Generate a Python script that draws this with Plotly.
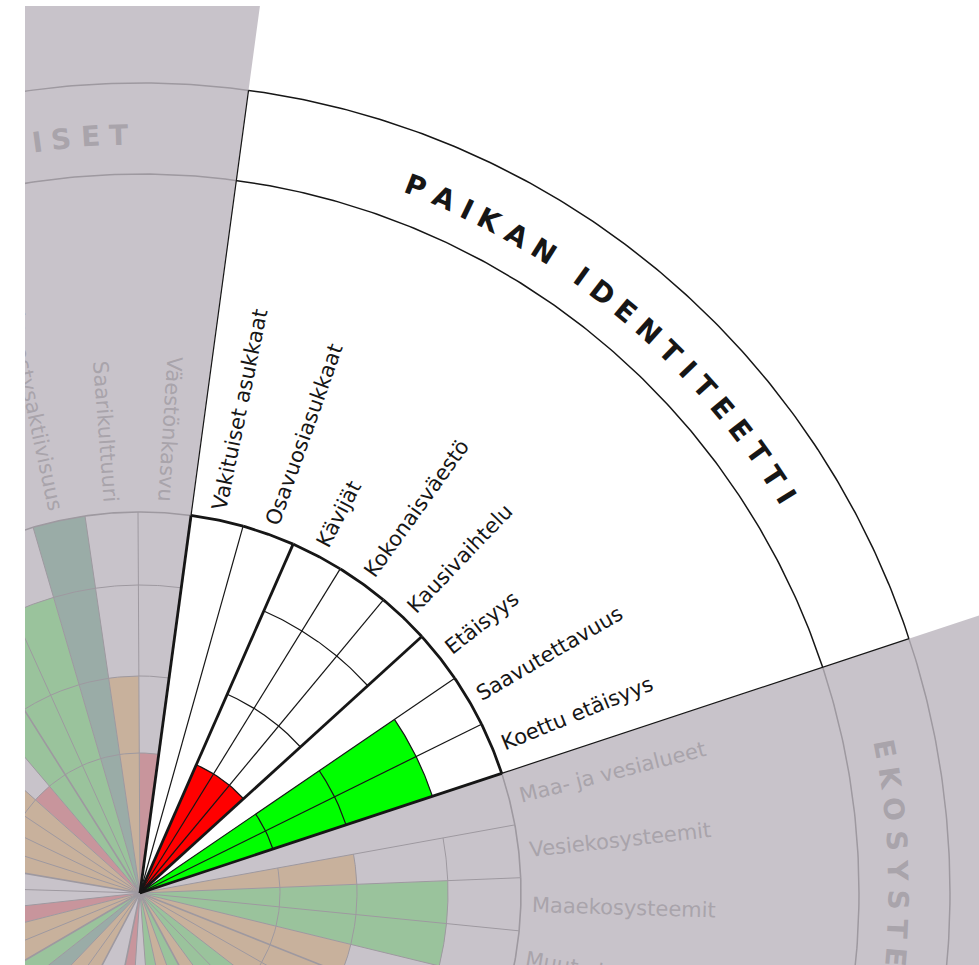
import numpy as np
import plotly.graph_objects as go

# ---------------- data ----------------
# wedges counted counter-clockwise, starting at the lower edge of the highlighted sector
WEDGE_LABELS = (
    ["Koettu etäisyys", "Saavutettavuus", "Etäisyys", "Kausivaihtelu",
     "Kokonaisväestö", "Kävijät", "Osavuosiasukkaat", "Vakituiset asukkaat",
     "Väestönkasvu", "Saarikulttuuri", "Äänestysaktiivisuus", "", ""]
    + [""] * 28
    + ["Muut ekosysteemit", "Maaekosysteemit", "Vesiekosysteemit", "Maa- ja vesialueet"]
)
# level 0 = not assessed, -1 = no wedge (gap), 1..4 = score
WEDGE_LEVELS = [3, 3, 0, 1, 1, 1, 0, 0,
                1, 2, 4, 3, 3,
                3, 1, 2, 2, 2, 2, 0, 0, 1, 2, 2, 3, 4, 2, 2,
                -1, -1,
                1, 0, 3, 2, 3, 2, 3, 3, 2, 2,
                2, 3, 3, 2, 0]
SUBGROUP_START = [0, 3, 6, 8, 13, 19, 24, 28, 30, 35, 40]
GROUP_TITLES = ["PAIKAN IDENTITEETTI", "SOSIAALISET", "", "", "", "", "EKOSYSTEEMIT"]
GROUP_FIRST = [0, 8, 13, 19, 24, 30, 40]
GROUP_LAST = [7, 12, 18, 23, 27, 39, 44]
GROUP_TITLE_SHIFT = [-0.2, -0.2, 0, 0, 0, 0, 0.5]   # degrees
HIGHLIGHT_GROUP = 0
LEVEL_COLORS = ["#ff0000", "#ff9900", "#00ff00", "#00803f"]

# ---------------- layout constants ----------------
N = len(WEDGE_LEVELS)
START_ANGLE = 18.3
WEDGE_DEG = 360 / N
LEVEL_RADII = [0, 140, 217, 308, 381]
R_GRID = 381
R_LABEL = 392
R_TITLE_IN, R_TITLE_OUT, R_TITLE_TEXT = 719, 810, 758
R_OVERLAY = 1600
X_RANGE = [-115, 839]
Y_RANGE = [-72, 887]
WIDTHS = {"top": (1.2, 2.8, 1.5), "base": (1.0, 1.6, 1.5)}
DARK = "#161616"
GREY_TEXT = "#a9a4ab"
OVERLAY = "rgba(188,182,190,0.82)"
LABEL_FONT = dict(family="DejaVu Sans", size=21)
TITLE_FS = 28
TITLE_TRACK = 9.2
BOLD_W = {"A": .774, "B": .762, "C": .734, "D": .830, "E": .683, "F": .683, "G": .821,
          "H": .837, "I": .372, "J": .372, "K": .775, "L": .637, "M": .995, "N": .837,
          "O": .850, "P": .733, "R": .770, "S": .720, "T": .682, "U": .812, "V": .774,
          "Y": .724, "Ö": .850, "Ä": .774, " ": .348}


def arc_pts(r, a0, a1):
    n = max(2, int(abs(a1 - a0) / 0.4) + 1)
    t = np.radians(np.linspace(a0, a1, n))
    return (r * np.cos(t)).tolist(), (r * np.sin(t)).tolist()


def polar(r, a):
    t = np.radians(a)
    return float(r * np.cos(t)), float(r * np.sin(t))


def wedge_span(k):
    a0 = START_ANGLE + k * WEDGE_DEG
    return a0, a0 + WEDGE_DEG


def norm(a):
    return (a + 180) % 360 - 180


hl_first, hl_last = GROUP_FIRST[HIGHLIGHT_GROUP], GROUP_LAST[HIGHLIGHT_GROUP]


def in_hl(k):
    return hl_first <= k <= hl_last


def subgroup(k):
    return max(i for i, s in enumerate(SUBGROUP_START) if s <= k)


def group_of(k):
    for g in range(len(GROUP_FIRST)):
        if GROUP_FIRST[g] <= k <= GROUP_LAST[g]:
            return g
    return None


fig = go.Figure()

# ---- coloured cells ----
for lvl in range(1, 5):
    xs, ys = [], []
    for k, v in enumerate(WEDGE_LEVELS):
        if v != lvl:
            continue
        a0, a1 = wedge_span(k)
        ax, ay = arc_pts(LEVEL_RADII[lvl], a0, a1)
        xs += [0] + ax + [0, None]
        ys += [0] + ay + [0, None]
    if xs:
        fig.add_trace(go.Scatter(x=xs, y=ys, fill="toself", fillcolor=LEVEL_COLORS[lvl - 1],
                                 mode="none", hoverinfo="skip", showlegend=False))

# ---- grid lines ----
segs = {}


def add_seg(layer, kind, xs, ys):
    d = segs.setdefault((layer, kind), ([], []))
    d[0].extend(list(xs) + [None])
    d[1].extend(list(ys) + [None])


for b in range(N):
    left, right = (b - 1) % N, b
    if WEDGE_LEVELS[left] < 0 and WEDGE_LEVELS[right] < 0:
        continue
    ang = START_ANGLE + b * WEDGE_DEG
    thick = subgroup(left) != subgroup(right)
    layer = "top" if (in_hl(left) or in_hl(right)) else "base"
    x1, y1 = polar(R_GRID, ang)
    add_seg(layer, 1 if thick else 0, [0, x1], [0, y1])
    if group_of(left) != group_of(right):
        x2, y2 = polar(R_TITLE_OUT, ang)
        add_seg(layer, 0, [x1, x2], [y1, y2])

for k, v in enumerate(WEDGE_LEVELS):
    if v < 0:
        continue
    a0, a1 = wedge_span(k)
    layer = "top" if in_hl(k) else "base"
    if v >= 1:
        for r in LEVEL_RADII[1:-1]:
            ax, ay = arc_pts(r, a0, a1)
            add_seg(layer, 0, ax, ay)
    ax, ay = arc_pts(R_GRID, a0, a1)
    add_seg(layer, 1, ax, ay)

for r in (R_TITLE_IN, R_TITLE_OUT):
    ax, ay = arc_pts(r, 0, 360)
    add_seg("base", 2, ax, ay)


def draw_layer(layer):
    for (lay, kind), (xs, ys) in segs.items():
        if lay != layer:
            continue
        fig.add_trace(go.Scatter(x=xs, y=ys, mode="lines",
                                 line=dict(color=DARK, width=WIDTHS[lay][kind]),
                                 hoverinfo="skip", showlegend=False))


draw_layer("base")

# ---- grey veil over all but the highlighted group ----
ov_a0 = START_ANGLE + (hl_last + 1) * WEDGE_DEG
ov_a1 = START_ANGLE + hl_first * WEDGE_DEG + 360
ax, ay = arc_pts(R_OVERLAY, ov_a0, ov_a1)
fig.add_trace(go.Scatter(x=[0] + ax + [0], y=[0] + ay + [0], fill="toself", fillcolor=OVERLAY,
                         mode="none", hoverinfo="skip", showlegend=False))

draw_layer("top")


# ---- category labels ----
def hidden(s):
    return "<span style='color:rgba(0,0,0,0)'>" + s + "</span>"


for k, lab in enumerate(WEDGE_LABELS):
    if not lab or WEDGE_LEVELS[k] < 0:
        continue
    a0, a1 = wedge_span(k)
    mid = (a0 + a1) / 2
    g = group_of(k)
    gm = START_ANGLE + (GROUP_FIRST[g] + GROUP_LAST[g] + 1) / 2 * WEDGE_DEG
    flip = np.cos(np.radians(gm)) < 0
    x, y = polar(R_LABEL, mid)
    if not (X_RANGE[0] <= x <= X_RANGE[1] and Y_RANGE[0] <= y <= Y_RANGE[1]):
        continue
    if flip:
        text, ta = lab + hidden(lab), norm(180 - mid)
    else:
        text, ta = hidden(lab) + lab, norm(-mid)
    fig.add_annotation(x=x, y=y, text=text, textangle=ta, showarrow=False,
                       xanchor="center", yanchor="middle",
                       font=dict(LABEL_FONT, color=DARK if in_hl(k) else GREY_TEXT))

# ---- curved group titles ----
for g, title in enumerate(GROUP_TITLES):
    if not title:
        continue
    gm = START_ANGLE + (GROUP_FIRST[g] + GROUP_LAST[g] + 1) / 2 * WEDGE_DEG + GROUP_TITLE_SHIFT[g]
    widths = [BOLD_W.get(c, 0.72) * TITLE_FS for c in title]
    pos = [0.0]
    for i in range(1, len(title)):
        pos.append(pos[-1] + (widths[i - 1] + widths[i]) / 2 + TITLE_TRACK)
    total = pos[-1]
    col = DARK if g == HIGHLIGHT_GROUP else GREY_TEXT
    for c, s in zip(title, pos):
        if c == " ":
            continue
        th = gm + np.degrees((total / 2 - s) / R_TITLE_TEXT)
        x, y = polar(R_TITLE_TEXT, th)
        if not (X_RANGE[0] <= x <= X_RANGE[1] and Y_RANGE[0] <= y <= Y_RANGE[1]):
            continue
        fig.add_annotation(x=x, y=y, text="<b>" + c + "</b>", textangle=norm(90 - th),
                           showarrow=False, xanchor="center", yanchor="middle",
                           font=dict(family="DejaVu Sans", size=TITLE_FS, color=col))

# white strip on the left edge
fig.add_annotation(xref="paper", yref="paper", x=0, y=0.5, xanchor="right", yanchor="middle",
                   text=" ", showarrow=False, bgcolor="white", width=40, height=1000,
                   borderpad=0, borderwidth=0)

fig.update_layout(
    width=979, height=965,
    margin=dict(l=25, r=0, t=6, b=0),
    paper_bgcolor="white", plot_bgcolor="white",
    xaxis=dict(range=X_RANGE, visible=False, fixedrange=True),
    yaxis=dict(range=Y_RANGE, visible=False, fixedrange=True),
    showlegend=False,
)

fig.write_html("out.html", config={"displayModeBar": False},
               post_script="document.body.style.margin='0px';")
